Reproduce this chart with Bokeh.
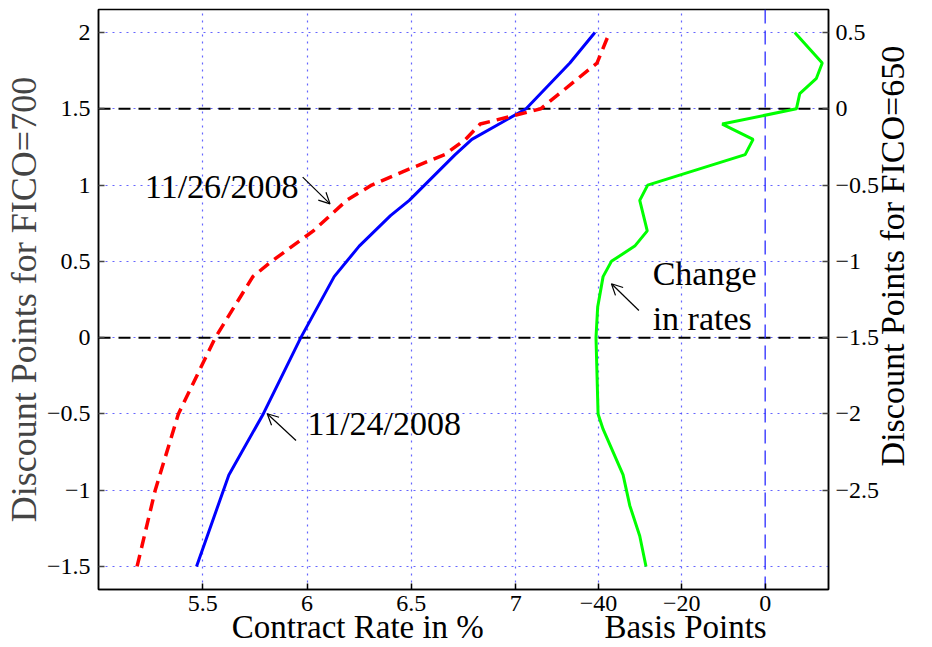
import math
from bokeh.plotting import figure
from bokeh.models import (Range1d, LinearAxis, FixedTicker, Grid, Span, Label,
                          Arrow, OpenHead, CustomJSTickFormatter)
from bokeh.embed import file_html
from bokeh.resources import INLINE

# ---- data ----
blue_y = [-1.5, -0.9, -0.5, 0.0, 0.4, 0.6, 0.8, 0.9, 1.2, 1.3, 1.5, 1.6, 1.8, 2.0]
blue_rate = [5.47, 5.625, 5.79, 5.97, 6.13, 6.25, 6.40, 6.49, 6.71, 6.79, 7.05, 7.12, 7.26, 7.38]

red_y = [-1.5, -1.0, -0.5, 0.0, 0.2, 0.4, 0.5, 0.7, 0.9, 1.0, 1.1, 1.2, 1.3, 1.4, 1.5, 1.8, 2.0]
red_rate = [5.185, 5.272, 5.383, 5.56, 5.65, 5.74, 5.83, 6.03, 6.19, 6.31, 6.48, 6.66, 6.76, 6.83, 7.12, 7.39, 7.45]

green_y = [-1.5, -1.3, -1.1, -1.0, -0.9, -0.6, -0.5, 0.0, 0.2, 0.4, 0.5, 0.6, 0.7, 0.9, 1.0,
           1.2, 1.3, 1.4, 1.5, 1.6, 1.7, 1.8, 2.0]
green_bp = [-28.6, -30.1, -32.5, -33.3, -34.1, -38.9, -40.1, -40.6, -40.2, -38.9, -36.9, -31.3, -28.3, -30.1, -28.2,
            -4.8, -2.9, -10.3, 7.5, 8.3, 12.3, 13.7, 7.1]

rate_ticks = [5.5, 6, 6.5, 7]
bp_ticks = [-40, -20, 0]
bp_grid_ticks = [-40, -20]
left_ticks = [-1.5, -1, -0.5, 0, 0.5, 1, 1.5, 2]
right_ticks = [-2.5, -2, -1.5, -1, -0.5, 0, 0.5]
ref_levels = [0, 1.5]
zero_bp = 0

label_left = "Discount Points for FICO=700"
label_right = "Discount Points for FICO=650"
label_rate = "Contract Rate in %"
label_bp = "Basis Points"

FONT = "Liberation Serif"

x_rng = Range1d(5.0, 8.5)
y_rng = Range1d(-1.651, 2.151)
bp_rng = Range1d(-160.0, 15.2)
right_rng = Range1d(-3.151, 0.651)

p = figure(width=932, height=647, x_range=x_rng, y_range=y_rng,
           x_axis_type=None, y_axis_type=None,
           output_backend="svg", toolbar_location=None,
           min_border_left=96, min_border_right=100, min_border_top=9, min_border_bottom=58)
p.extra_x_ranges = {"bp": bp_rng}
p.extra_y_ranges = {"right": right_rng}
p.background_fill_color = "white"
p.border_fill_color = "white"
p.outline_line_color = "black"
p.outline_line_width = 1.5


def fmt(v):
    s = f"{v:g}"
    return s.replace("-", "\u2212")


def to_rate(b):
    return x_rng.start + (b - bp_rng.start) * (x_rng.end - x_rng.start) / (bp_rng.end - bp_rng.start)


minus_fmt = CustomJSTickFormatter(code="return (tick < 0 ? '\u2212' : '') + String(Math.abs(tick));")


def style_axis(ax, tick_color, standoff):
    ax.major_tick_in = 6
    ax.major_tick_out = 0
    ax.minor_tick_line_color = None
    ax.major_tick_line_color = tick_color
    ax.major_tick_line_width = 1.5
    ax.axis_line_color = "black"
    ax.axis_line_width = 1.5
    ax.major_label_text_font = FONT
    ax.major_label_text_font_size = "24px"
    ax.major_label_text_color = "black"
    ax.major_label_standoff = standoff


def title_axis(ax, standoff, size):
    ax.major_tick_in = 0
    ax.major_tick_out = 0
    ax.major_tick_line_color = None
    ax.minor_tick_line_color = None
    ax.axis_line_color = None
    ax.major_label_text_font = FONT
    ax.major_label_text_font_size = size
    ax.major_label_text_color = "black"
    ax.major_label_standoff = standoff


# left axis: ticks, then a title-only axis
ly = LinearAxis(ticker=FixedTicker(ticks=left_ticks, minor_ticks=[]), formatter=minus_fmt)
style_axis(ly, "#444444", 8)
p.add_layout(ly, "left")

lyt = LinearAxis(ticker=FixedTicker(ticks=[], minor_ticks=[]))
title_axis(lyt, 0, "34px")
lyt.axis_label = label_left
lyt.axis_label_text_font = FONT
lyt.axis_label_text_font_size = "36px"
lyt.axis_label_text_font_style = "normal"
lyt.axis_label_standoff = 0
p.add_layout(lyt, "left")

# right axis
ry = LinearAxis(y_range_name="right", ticker=FixedTicker(ticks=right_ticks, minor_ticks=[]), formatter=minus_fmt)
style_axis(ry, "#444444", 7)
p.add_layout(ry, "right")

right_title_pos = -0.25
ryt = LinearAxis(ticker=FixedTicker(ticks=[right_title_pos], minor_ticks=[]))
ryt.major_label_overrides = {right_title_pos: label_right}
ryt.major_label_orientation = math.pi / 2
title_axis(ryt, 10, "34px")
p.add_layout(ryt, "right")

# bottom axis: contract rate ticks plus basis-point ticks mapped onto it
bottom_ticks = list(rate_ticks) + [to_rate(b) for b in bp_ticks]
overrides = {float(t): fmt(t) for t in rate_ticks}
for b in bp_ticks:
    overrides[float(to_rate(b))] = fmt(b)
bx = LinearAxis(ticker=FixedTicker(ticks=bottom_ticks, minor_ticks=[]), formatter=minus_fmt)
bx.major_label_overrides = overrides
style_axis(bx, "black", 6)
p.add_layout(bx, "below")

rate_title_pos = 6.2435
bp_title_pos = -19.1
bxt = LinearAxis(ticker=FixedTicker(ticks=[rate_title_pos, to_rate(bp_title_pos)], minor_ticks=[]))
bxt.major_label_overrides = {rate_title_pos: label_rate, float(to_rate(bp_title_pos)): label_bp}
title_axis(bxt, -5, "33px")
p.add_layout(bxt, "below")

# grids (dotted blue)
def style_grid(g):
    g.grid_line_color = "#4a4aff"
    g.grid_line_alpha = 0.85
    g.grid_line_width = 1.2
    g.grid_line_dash = "2 5"


g1 = Grid(dimension=0, ticker=FixedTicker(ticks=rate_ticks))
g2 = Grid(dimension=0, ticker=FixedTicker(ticks=bp_grid_ticks), x_range_name="bp")
g3 = Grid(dimension=1, ticker=FixedTicker(ticks=left_ticks))
for g in (g1, g2, g3):
    style_grid(g)
    p.add_layout(g)

# reference lines
for lv in ref_levels:
    p.add_layout(Span(location=lv, dimension="width", line_color="black", line_width=2,
                      line_dash="12 8", level="underlay"))
p.add_layout(Span(location=zero_bp, dimension="height", x_range_name="bp", line_color="#2a2aff",
                  line_width=1.3, line_dash="14 7", level="underlay"))

# data lines
p.line(blue_rate, blue_y, line_color="#0000ff", line_width=3)
p.line(red_rate, red_y, line_color="#ff0000", line_width=3.5, line_dash="12 7")
p.line(green_bp, green_y, x_range_name="bp", line_color="#00ff00", line_width=3)

# annotations
def arrow(x0, y0, x1, y1, rname="default"):
    a = Arrow(end=OpenHead(size=11, line_width=1.2, line_color="black"),
              x_start=x0, y_start=y0, x_end=x1, y_end=y1,
              line_color="black", line_width=1.2, x_range_name=rname)
    p.add_layout(a)


arrow(5.979, 1.052, 6.110, 0.877)
arrow(5.947, -0.674, 5.809, -0.499)
arrow(-30.3, 0.178, -36.9, 0.353, "bp")

ann = dict(text_font=FONT, text_font_size="34px", text_color="black", text_baseline="alphabetic")
p.add_layout(Label(x=5.959, y=0.988, text="11/26/2008", text_align="right", **ann))
p.add_layout(Label(x=6.0016, y=-0.563, text="11/24/2008", text_align="left", **ann))
p.add_layout(Label(x=-27.0, y=0.420, text="Change", text_align="left", x_range_name="bp", **ann))
p.add_layout(Label(x=-27.0, y=0.125, text="in rates", text_align="left", x_range_name="bp", **ann))

open("out.html", "w").write(file_html(p, INLINE))
